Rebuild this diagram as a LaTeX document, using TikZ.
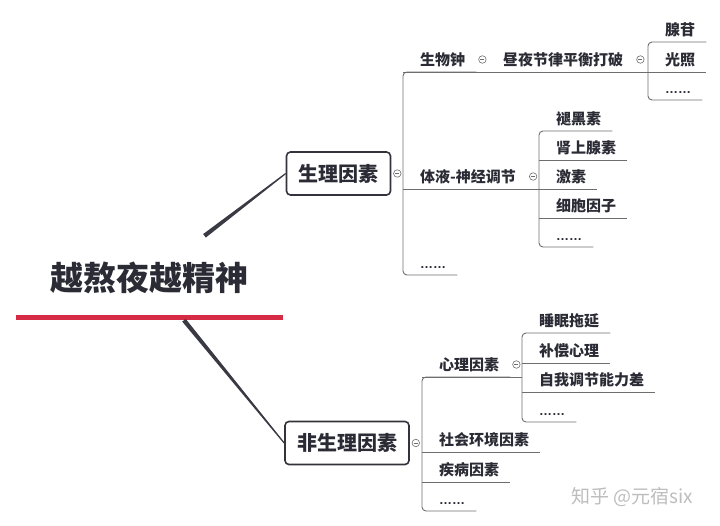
\documentclass[tikz,border=0pt]{standalone}
\usepackage{fontspec}
\newfontfamily\cjk{Noto Sans CJK SC}
\newfontfamily\latinf{Liberation Sans}
\usetikzlibrary{calc}
\definecolor{ink}{HTML}{2B2B35}
\definecolor{stemc}{HTML}{6E6E6E}
\definecolor{boxc}{HTML}{33333B}
\definecolor{trunkc}{HTML}{3A3A44}
\definecolor{redc}{HTML}{D62B44}
\begin{document}
\begin{tikzpicture}[x=1pt,y=-1pt,
  leaf/.style={anchor=south west,inner xsep=0pt,inner ysep=4.8pt,text height=13pt,text depth=2pt,text=ink,
    font=\cjk\bfseries\fontsize{15}{18}\selectfont,
    execute at begin node={\hspace*{17pt}},execute at end node={\hspace*{11pt}}},
  dots/.style={leaf,font=\latinf\bfseries\fontsize{13}{16}\selectfont},
  topic/.style={draw=boxc,line width=1.6pt,rounded corners=4pt,fill=white,text=ink,
    font=\cjk\bfseries\fontsize{20}{24}\selectfont,inner xsep=12pt,inner ysep=0pt,minimum height=43pt},
  title/.style={inner sep=0pt,minimum width=267pt,minimum height=84pt,text=ink,
    font=\cjk\bfseries\fontsize{33}{40}\selectfont},
  fold/.style={circle,draw=stemc,fill=white,line width=0.6pt,inner sep=0pt,minimum size=7.5pt,
    path picture={\draw[stemc,line width=0.6pt] ([xshift=-2pt]path picture bounding box.center) -- ([xshift=2pt]path picture bounding box.center);}},
  stem/.style={draw=stemc,line width=0.9pt},
  wmark/.style={text=black!26,font=\cjk\fontsize{19}{22}\selectfont,inner sep=0pt}]
\useasboundingbox (0,0) rectangle (720,525);

\node[title] (title) at (149.5,278) {越熬夜越精神};
\draw[redc,line width=5pt] ([yshift=2.5pt]title.south west) -- ([yshift=2.5pt]title.south east);

\node[topic] (phys) at (338.5,173.5) {生理因素};
\node[topic] (nonphys) at (347,443) {非生理因素};

\node[leaf] (bio) at (403,72) {生物钟};
\node[leaf] (rhy) at (486,72) {昼夜节律平衡打破};
\node[leaf] (ade) at (648,42) {腺苷};
\node[leaf] (light) at (648,72) {光照};
\node[dots] (rdots) at (648,100) {……};
\node[leaf] (hum) at (403,189) {体液-神经调节};
\node[leaf] (mel) at (539,131) {褪黑素};
\node[leaf] (adr) at (539,160) {肾上腺素};
\node[leaf] (hor) at (539,189) {激素};
\node[leaf] (cyt) at (539,218) {细胞因子};
\node[dots] (hdots) at (539,247) {……};
\node[dots] (pdots) at (403,275) {……};

\node[leaf] (psy) at (422,377) {心理因素};
\node[leaf] (delay) at (522,333) {睡眠拖延};
\node[leaf] (comp) at (522,363) {补偿心理};
\node[leaf] (self) at (522,392) {自我调节能力差};
\node[dots] (sdots) at (522,422) {……};
\node[leaf] (soc) at (422,452) {社会环境因素};
\node[leaf] (dis) at (422,482) {疾病因素};
\node[dots] (ndots) at (422,511) {……};

\path (title) -- coordinate[pos=0] (t1) (phys.west);
\path (title) -- coordinate[pos=0] (t2) (nonphys.west);
\fill[trunkc] ($(t1)!2.2pt!90:(phys.west)$) -- ($(t1)!2.2pt!-90:(phys.west)$) -- ($(phys.west)!0.6pt!90:(t1)$) -- ($(phys.west)!0.6pt!-90:(t1)$) -- cycle;
\fill[trunkc] ($(t2)!2.2pt!90:(nonphys.west)$) -- ($(t2)!2.2pt!-90:(nonphys.west)$) -- ($(nonphys.west)!0.6pt!90:(t2)$) -- ($(nonphys.west)!0.6pt!-90:(t2)$) -- cycle;

\draw[stem,rounded corners=4pt] (bio.south east) -- (bio.south west) -- (pdots.south west) -- (pdots.south east);
\draw[stem,rounded corners=4pt] (ade.south east) -- (ade.south west) -- (rdots.south west) -- (rdots.south east);
\draw[stem,rounded corners=4pt] (mel.south east) -- (mel.south west) -- (hdots.south west) -- (hdots.south east);
\draw[stem,rounded corners=4pt] (psy.south east) -- (psy.south west) -- (ndots.south west) -- (ndots.south east);
\draw[stem,rounded corners=4pt] (delay.south east) -- (delay.south west) -- (sdots.south west) -- (sdots.south east);
\draw[stem] (bio.south west) -- (ade.south west |- bio.south);
\draw[stem] (hum.south west) -- (mel.south west |- hum.south);
\draw[stem] (psy.south west) -- (delay.south west |- psy.south);
\foreach \n in {light,adr,hor,cyt,comp,self,soc,dis}
  \draw[stem] (\n.south west) -- (\n.south east);

\node[fold] (fphys) at ([xshift=6pt]phys.east) {};
\node[fold] (fnon) at ([xshift=6pt]nonphys.east) {};
\node[fold] (fbio) at ([xshift=6pt]bio.east) {};
\node[fold] (frhy) at ([xshift=6pt]rhy.east) {};
\node[fold] (fhum) at ([xshift=6pt]hum.east) {};
\node[fold] (fpsy) at ([xshift=6pt]psy.east) {};

\node[wmark] (wm) at (632,497) {知乎 @元宿six};
\end{tikzpicture}
\end{document}
